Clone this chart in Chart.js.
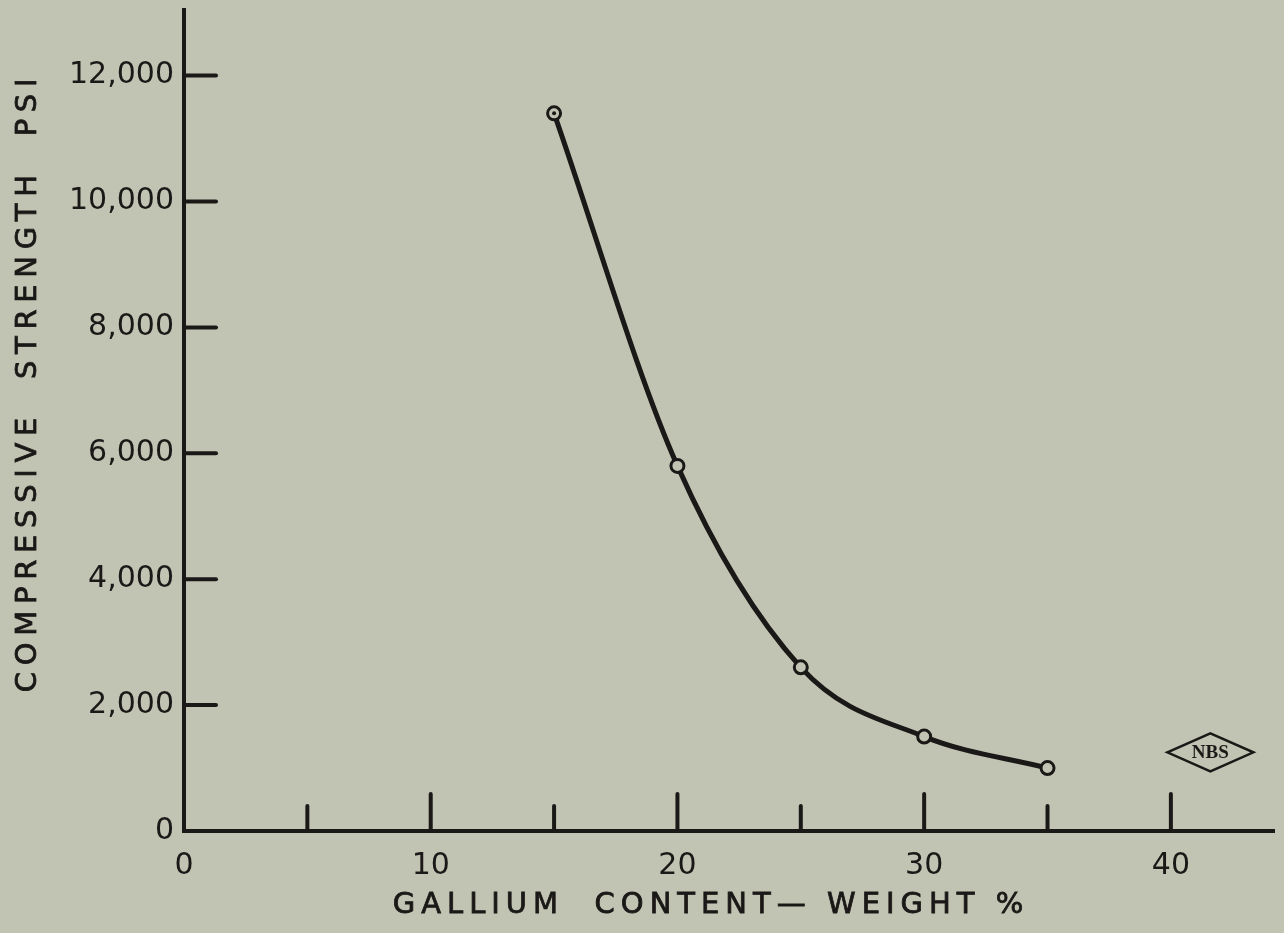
<!DOCTYPE html>
<html>
<head>
<meta charset="utf-8">
<title>Compressive strength vs gallium content</title>
<script src="https://cdn.jsdelivr.net/npm/chart.js@4/dist/chart.umd.min.js"></script>
<style>
  html, body { margin: 0; padding: 0; background: #c2c4b3; }
  #wrap { width: 1284px; height: 933px; position: relative; }
</style>
</head>
<body>
<div id="wrap"><canvas id="chart"></canvas></div>
<script>
// data
const galliumPct = [15, 20, 25, 30, 35]
const strengthPsi = [11400, 5800, 2600, 1500, 1000]

// axis ticks
const xTickMarks = [5, 10, 15, 20, 25, 30, 35, 40]
const xTickLabels = [0, 10, 20, 30, 40]
const yTickValues = [0, 2000, 4000, 6000, 8000, 10000, 12000]

const xTitle = 'GALLIUM  CONTENT\u2014 WEIGHT %'
const yTitle = 'COMPRESSIVE  STRENGTH  PSI'

const INK = '#1b1917'
const PAPER = '#c2c4b3'

// tick marks point into the plot, long ones on the labelled values
const inwardTicks = {
  id: 'inwardTicks',
  afterDraw(chart) {
    const { ctx, scales: { x, y } } = chart
    ctx.save()
    ctx.strokeStyle = INK
    ctx.lineWidth = 4
    ctx.lineCap = 'round'
    xTickMarks.forEach(v => {
      const px = x.getPixelForValue(v)
      const len = xTickLabels.includes(v) ? 37 : 25
      ctx.beginPath()
      ctx.moveTo(px, y.bottom)
      ctx.lineTo(px, y.bottom - len)
      ctx.stroke()
    })
    yTickValues.forEach(v => {
      if (v === 0) return
      const py = y.getPixelForValue(v)
      ctx.beginPath()
      ctx.moveTo(x.left, py)
      ctx.lineTo(x.left + 32, py)
      ctx.stroke()
    })
    ctx.restore()
  }
}

// axis titles with the wide letter spacing of the original lettering
const spacedTitles = {
  id: 'spacedTitles',
  afterDraw(chart) {
    const { ctx } = chart
    ctx.save()
    ctx.fillStyle = INK
    ctx.strokeStyle = INK
    ctx.lineWidth = 0.8
    ctx.font = '29px "DejaVu Sans"'
    ctx.textAlign = 'center'
    ctx.textBaseline = 'middle'
    ctx.letterSpacing = '6px'
    ctx.fillText(xTitle, 711, 905)
    ctx.strokeText(xTitle, 711, 905)
    ctx.translate(28, 382)
    ctx.rotate(-Math.PI / 2)
    ctx.letterSpacing = '6.7px'
    ctx.fillText(yTitle, 0, 0)
    ctx.strokeText(yTitle, 0, 0)
    ctx.restore()
  }
}

// the NBS mark in the lower right corner, plus the dot inside the first marker
const extras = {
  id: 'extras',
  afterDatasetsDraw(chart) {
    const { ctx, scales: { x, y } } = chart
    const first = chart.getDatasetMeta(0).data[0]
    ctx.save()
    ctx.fillStyle = INK
    ctx.beginPath()
    ctx.arc(first.x, first.y, 2, 0, Math.PI * 2)
    ctx.fill()

    const cx = x.getPixelForValue(41.6)
    const cy = y.getPixelForValue(1250)
    ctx.strokeStyle = INK
    ctx.lineWidth = 2.5
    ctx.beginPath()
    ctx.moveTo(cx - 43, cy)
    ctx.lineTo(cx, cy - 19)
    ctx.lineTo(cx + 43, cy)
    ctx.lineTo(cx, cy + 19)
    ctx.closePath()
    ctx.stroke()
    ctx.font = 'bold 19px "Liberation Serif"'
    ctx.textAlign = 'center'
    ctx.textBaseline = 'middle'
    ctx.fillText('NBS', cx, cy + 1)
    ctx.restore()
  }
}

new Chart(document.getElementById('chart'), {
  type: 'line',
  data: {
    datasets: [{
      label: 'Compressive strength',
      data: galliumPct.map((g, i) => ({ x: g, y: strengthPsi[i] })),
      borderColor: INK,
      borderWidth: 5,
      cubicInterpolationMode: 'monotone',
      pointRadius: 6.5,
      pointBorderWidth: 3,
      pointBorderColor: INK,
      pointBackgroundColor: PAPER,
      fill: false
    }]
  },
  plugins: [inwardTicks, spacedTitles, extras],
  options: {
    responsive: true,
    maintainAspectRatio: false,
    animation: false,
    layout: { padding: { top: 8, right: -6, left: 0, bottom: 0 } },
    plugins: {
      legend: { display: false },
      title: { display: false },
      tooltip: { enabled: false }
    },
    scales: {
      x: {
        type: 'linear',
        min: 0,
        max: 44.2,
        afterBuildTicks: scale => { scale.ticks = xTickLabels.map(v => ({ value: v })) },
        afterFit: scale => {
          scale.height = 102
          scale.paddingLeft = 0
          scale.paddingRight = 0
        },
        grid: { display: false, drawTicks: false },
        border: { display: true, color: INK, width: 4 },
        ticks: {
          color: INK,
          padding: 17,
          font: { family: 'DejaVu Sans', size: 30 },
          maxRotation: 0
        }
      },
      y: {
        type: 'linear',
        min: 0,
        max: 13050,
        afterBuildTicks: scale => { scale.ticks = yTickValues.map(v => ({ value: v })) },
        afterFit: scale => {
          scale.width = 184
          scale.paddingTop = 0
          scale.paddingBottom = 0
        },
        grid: { display: false, drawTicks: false },
        border: { display: true, color: INK, width: 4 },
        ticks: {
          color: INK,
          padding: 10,
          font: { family: 'DejaVu Sans', size: 30 },
          callback: value => value.toLocaleString('en-US')
        }
      }
    }
  }
})
</script>
</body>
</html>
